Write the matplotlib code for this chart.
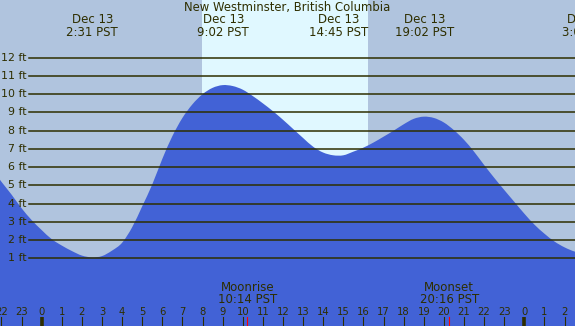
import matplotlib
matplotlib.use("Agg")
import matplotlib.pyplot as plt
import matplotlib.transforms as mtransforms
from matplotlib.path import Path
from matplotlib.patches import PathPatch

# ---- data ----
hours = [-2.5, -2.0, -1.5, -1.0, -0.5, 0.0, 0.5, 1.0, 1.5, 2.0, 2.5, 3.0, 3.5, 4.0, 4.5,
         5.0, 5.5, 6.0, 6.5, 7.0, 7.5, 8.0, 8.5, 9.0, 9.5, 10.0, 10.5, 11.0, 11.5, 12.0,
         12.5, 13.0, 13.5, 14.0, 14.5, 15.0, 15.5, 16.0, 16.5, 17.0, 17.5, 18.0, 18.5,
         19.0, 19.5, 20.0, 20.5, 21.0, 21.5, 22.0, 22.5, 23.0, 23.5, 24.0, 24.5, 25.0,
         25.5, 26.0, 26.5, 27.0]
heights = [5.95, 5.2, 4.5, 3.75, 3.1, 2.55, 2.05, 1.7, 1.4, 1.15, 1.05, 1.12, 1.42, 1.85, 2.7,
           3.85, 5.05, 6.45, 7.7, 8.7, 9.45, 10.0, 10.35, 10.5, 10.45, 10.25, 9.9, 9.5, 9.07, 8.6,
           8.1, 7.6, 7.12, 6.8, 6.65, 6.65, 6.85, 7.07, 7.35, 7.67, 8.0, 8.35, 8.65,
           8.77, 8.7, 8.45, 8.03, 7.5, 6.85, 6.12, 5.42, 4.75, 4.1, 3.45, 2.85, 2.35,
           1.92, 1.6, 1.37, 1.25]

extreme_hours = [2.52, 9.03, 14.75, 19.03, 27.13]
extreme_labels = ["2:31 PST", "9:02 PST", "14:45 PST", "19:02 PST", "3:08 PST"]
extreme_dates = ["Dec 13", "Dec 13", "Dec 13", "Dec 13", "Dec 14"]

sunrise, sunset = 7.955, 16.21
moon_hours = [10.23, 20.27]
moon_names = ["Moonrise", "Moonset"]
moon_labels = ["10:14 PST", "20:16 PST"]

ft_levels = list(range(1, 13))
hour_ticks = list(range(-2, 27))
title = "New Westminster, British Columbia"

# ---- layout ----
W, H = 575, 326
XMIN, XMAX = -2.07, 26.52
YMIN, YMAX = -2.715, 15.17
TXT = "#2e2e00"
NIGHT = "#B0C4DE"
DAY = "#E0F8FF"
WATER = "#4262D6"

fig = plt.figure(figsize=(W / 100, H / 100), dpi=100)
ax = fig.add_axes([0, 0, 1, 1])
ax.set_xlim(XMIN, XMAX)
ax.set_ylim(YMIN, YMAX)
ax.axis("off")
fig.patch.set_facecolor(NIGHT)
ax.add_patch(plt.Rectangle((0, 0), 1, 1, transform=ax.transAxes, color=NIGHT, zorder=0))
ax.axvspan(sunrise, sunset, color=DAY, zorder=1, lw=0)

# smooth (Catmull-Rom -> Bezier) rendering of the read points
pts = list(zip(hours, heights))
verts = [(hours[0], YMIN), pts[0]]
codes = [Path.MOVETO, Path.LINETO]
n = len(pts)
for i in range(n - 1):
    p0 = pts[i - 1] if i > 0 else pts[i]
    p1 = pts[i]
    p2 = pts[i + 1]
    p3 = pts[i + 2] if i + 2 < n else pts[i + 1]
    c1 = (p1[0] + (p2[0] - p0[0]) / 6, p1[1] + (p2[1] - p0[1]) / 6)
    c2 = (p2[0] - (p3[0] - p1[0]) / 6, p2[1] - (p3[1] - p1[1]) / 6)
    verts += [c1, c2, p2]
    codes += [Path.CURVE4] * 3
verts += [(hours[-1], YMIN), (hours[0], YMIN)]
codes += [Path.LINETO, Path.CLOSEPOLY]
ax.add_patch(PathPatch(Path(verts, codes), facecolor=WATER, lw=0, zorder=2))

def fy(px):
    return 1 - px / H

yt = mtransforms.blended_transform_factory(ax.transAxes, ax.transData)
for lvl in ft_levels:
    ax.axhline(lvl, xmin=29 / W, xmax=1, color="#2e2e00", lw=1.1, zorder=3)
    ax.text(27 / W, lvl, f"{lvl} ft", transform=yt,
            ha="right", va="center", fontsize=7.9, color=TXT, zorder=4)

bt = mtransforms.blended_transform_factory(ax.transData, ax.transAxes)

ax.text(0.5, fy(7), title, transform=ax.transAxes, ha="center", va="center",
        fontsize=8.4, color=TXT, zorder=5)
for hx, lab, d in zip(extreme_hours, extreme_labels, extreme_dates):
    ax.text(hx, fy(19.5), d, transform=bt, ha="center", va="center", fontsize=8.5, color=TXT, zorder=5, clip_on=False)
    ax.text(hx, fy(32), lab, transform=bt, ha="center", va="center", fontsize=8.5, color=TXT, zorder=5, clip_on=False)

for hx, nme, lab in zip(moon_hours, moon_names, moon_labels):
    ax.text(hx, fy(287.5), nme, transform=bt, ha="center", va="center", fontsize=8.5, color=TXT, zorder=5)
    ax.text(hx, fy(299.5), lab, transform=bt, ha="center", va="center", fontsize=8.5, color=TXT, zorder=5)
    ax.plot([hx, hx], [0, fy(317)], transform=bt, color="red", lw=0.8, zorder=5)

for h in hour_ticks:
    ax.text(h, fy(312), str(h % 24), transform=bt, ha="center", va="center", fontsize=7.2,
            color=TXT, zorder=5)
    if h % 24 == 0:
        ax.plot([h, h], [0, fy(317)], transform=bt, color="#2e2e00", lw=2.6,
                solid_capstyle="butt", zorder=5)
    else:
        ax.plot([h, h], [0, fy(317)], transform=bt, color="#2e2e00", lw=0.8, zorder=5)

fig.savefig("out.png", dpi=100, facecolor=NIGHT)
